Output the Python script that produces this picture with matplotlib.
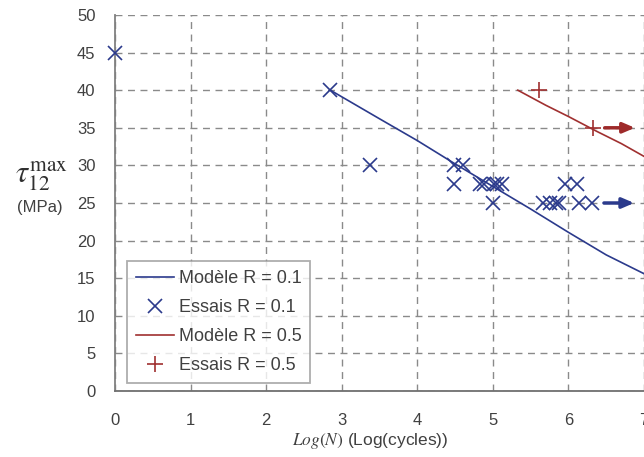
import matplotlib.pyplot as plt

plt.rcParams['font.family'] = ['Liberation Sans', 'DejaVu Sans']
plt.rcParams['mathtext.fontset'] = 'stix'

# model curves
model_x_01 = [2.85, 3.5, 4.0, 4.5, 5.0, 5.5, 6.0, 6.5, 7.0]
model_y_01 = [40.0, 36.2, 33.3, 30.2, 27.2, 24.2, 21.1, 18.1, 15.6]
model_x_05 = [5.33, 5.7, 6.0, 6.38, 6.7, 7.0]
model_y_05 = [40.0, 38.0, 36.5, 34.5, 32.9, 31.2]

# tests R = 0.1
test_x_01 = [0.0, 2.85, 3.38, 4.48, 4.61, 4.49, 4.83, 4.88, 5.01, 5.06, 5.12,
             5.96, 6.11, 5.0, 5.66, 5.76, 5.83, 5.87, 6.14, 6.31]
test_y_01 = [45, 40, 30, 30, 30, 27.5, 27.5, 27.5, 27.5, 27.5, 27.5,
             27.5, 27.5, 25, 25, 25, 25, 25, 25, 25]

# tests R = 0.5
test_x_05 = [5.61, 6.32]
test_y_05 = [40, 35]

# run-out arrows (start x, end x, level)
arrow_x0 = [6.47, 6.48]
arrow_x1 = [6.87, 6.88]
arrow_y = [25, 35]
arrow_col = ['#2b3a8c', '#9e2a2a']

blue = '#2b3a8c'
red = '#a03030'
txt = '#404040'

fig = plt.figure(figsize=(6.44, 4.57), dpi=100)
ax = fig.add_axes([0.1786, 0.1444, 0.8214, 0.8228])

ax.plot(model_x_01, model_y_01, color=blue, lw=1.2, label='Modèle R = 0.1')
ax.plot(test_x_01, test_y_01, ls='none', marker='x', ms=10, mew=1.2,
        color=blue, label='Essais R = 0.1', clip_on=False, zorder=5)
ax.plot(model_x_05, model_y_05, color=red, lw=1.2, label='Modèle R = 0.5')
ax.plot(test_x_05, test_y_05, ls='none', marker='+', ms=11, mew=1.2,
        color=red, label='Essais R = 0.5', zorder=5)

for x0, x1, y, c in zip(arrow_x0, arrow_x1, arrow_y, arrow_col):
    ax.annotate('', xy=(x1, y), xytext=(x0, y),
                arrowprops=dict(arrowstyle='-|>,head_length=0.7,head_width=0.3',
                                color=c, lw=2.5, shrinkA=0, shrinkB=0))

ax.set_xlim(0, 7)
ax.set_ylim(0, 50)
ax.set_xticks(range(0, 8))
ax.set_yticks(range(0, 51, 5))
ax.grid(True, ls=(0, (5, 4)), color='#8a8a8a', lw=1)
ax.set_axisbelow(True)
ax.tick_params(length=0, labelsize=12, labelcolor=txt)
ax.tick_params(axis='x', pad=16)
ax.tick_params(axis='y', pad=14)
ax.spines['top'].set_visible(False)
ax.spines['right'].set_visible(False)
ax.spines['left'].set_color('#808080')
ax.spines['bottom'].set_color('#707070')
ax.spines['left'].set_linewidth(1.3)
ax.spines['bottom'].set_linewidth(1.3)

leg = ax.legend(loc='lower left', bbox_to_anchor=(0.023, 0.021), borderaxespad=0,
                fancybox=False, edgecolor='#999999', fontsize=13,
                handlelength=2.1, labelspacing=0.66, handletextpad=0.25,
                borderpad=0.5)
leg.get_frame().set_linewidth(1.3)
for t in leg.get_texts():
    t.set_color(txt)

fig.text(0.065, 0.615, r'$\tau_{12}^{\mathrm{max}}$', fontsize=22, color='#303030',
         ha='center', va='center')
fig.text(0.062, 0.545, '(MPa)', fontsize=12, color=txt, ha='center', va='center')
fig.text(0.575, 0.036, r'$\mathit{Log(N)}$ (Log(cycles))', fontsize=12.5,
         color=txt, ha='center', va='center')

fig.savefig('out.png', dpi=100)
